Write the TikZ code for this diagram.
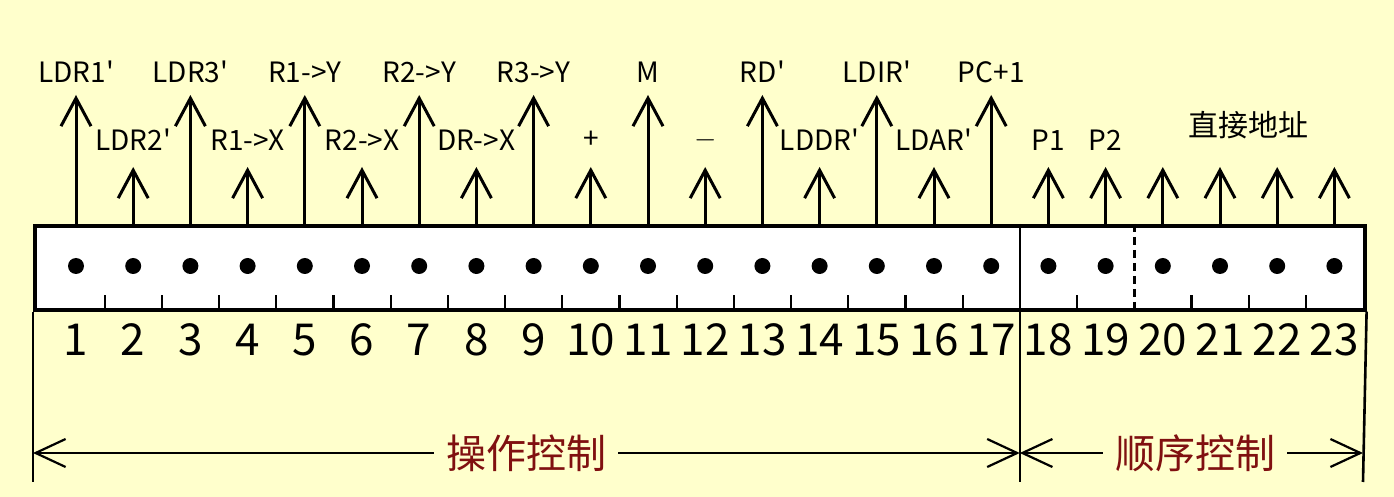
\documentclass[tikz,border=0pt]{standalone}
\usepackage{fontspec}
\setmainfont{Noto Sans CJK SC}
\newfontfamily\siglatin{Noto Sans CJK SC}
\usetikzlibrary{arrows.meta,positioning,calc}
\definecolor{bgyellow}{RGB}{255,255,204}
\definecolor{grpred}{RGB}{128,16,16}
\tikzset{
  sig/.style={-{Straight Barb[length=14pt,width=15pt]}, line width=1.5pt},
  dimline/.style={-{Straight Barb[length=15pt,width=14pt]}, line width=1.1pt},
  siglabel/.style={font=\siglatin\fontsize{14}{14}\selectfont, inner sep=0pt},
  fieldnum/.style={font=\fontsize{22}{22}\selectfont, inner sep=0pt},
  grplabel/.style={font=\fontsize{20}{20}\selectfont, text=grpred, inner sep=6pt},
}
\begin{document}
\begin{tikzpicture}[x=0.5pt,y=-0.5pt]
  \fill[bgyellow] (0,0) rectangle (1394,497);
  \useasboundingbox (0,0) rectangle (1394,497);

  % the control word
  \node [rectangle, draw=black, fill=white, line width=1.8pt, inner sep=0pt,
         minimum width=665pt, minimum height=42pt, anchor=north west] (word) at (33,224) {};

  \foreach \i in {1,...,23} {
    \pgfmathsetmacro\x{76+(\i-1)*57.2}
    \coordinate (f\i) at (\x,266);
    \coordinate (t\i) at (\x,224);
    \fill (f\i) circle (8);
    \node [fieldnum] (n\i) at (\x,340) {\i};
  }
  % small ticks between fields
  \foreach \i in {1,...,16,18,20,21,22} {
    \pgfmathsetmacro\x{76+(\i-0.5)*57.2}
    \draw[line width=1.1pt] (\x,308) -- (\x,295);
  }
  \coordinate (sepT) at (1019.8,224);
  \coordinate (sepB) at (1019.8,482);
  \draw[line width=1.3pt] (sepT) -- (sepB);
  \draw[line width=1.3pt, dash pattern=on 4pt off 2.5pt] (1134.2,224) -- (1134.2,308);
  \draw[line width=1.3pt] (word.south west) -- (33,482);
  \draw[line width=1.3pt] (word.south east) -- (1363,482);

  % control signals
  \foreach \i in {1,3,...,17} {
    \coordinate (h\i) at ($(t\i)+(0,-129)$);
  }
  \foreach \i in {2,4,...,16,18,19,...,23} {
    \coordinate (h\i) at ($(t\i)+(0,-57)$);
  }
  \foreach \i in {1,...,23} {
    \draw[sig] (t\i) -- (h\i);
  }
  \foreach \i/\t in {1/LDR1',3/LDR3',5/R1->Y,7/R2->Y,9/R3->Y,11/M,13/RD',15/LDIR',17/PC+1} {
    \node [siglabel] (s\i) at ($(t\i)+(0,-152)$) {\t};
  }
  \foreach \i/\t in {2/LDR2',4/R1->X,6/R2->X,8/DR->X,10/+,12/{$-$},14/LDDR',16/LDAR',18/P1,19/P2} {
    \node [siglabel] (s\i) at ($(t\i)+(0,-84)$) {\t};
  }
  \node [font=\fontsize{15}{15}\selectfont, inner sep=0pt] (addr) at ($(t21)!0.5!(t22)+(0,-99)$) {直接地址};

  % field groups
  \node [grplabel] (op) at (526,453) {操作控制};
  \node [grplabel] (seq) at (1195,453) {顺序控制};
  \coordinate (opL) at (33,453);
  \coordinate (mid) at (1019.8,453);
  \coordinate (seqR) at (1363,453);
  \draw[dimline] (op) -- (opL);
  \draw[dimline] (op) -- (mid);
  \draw[dimline] (seq) -- (mid);
  \draw[dimline] (seq) -- (seqR);
\end{tikzpicture}
\end{document}
